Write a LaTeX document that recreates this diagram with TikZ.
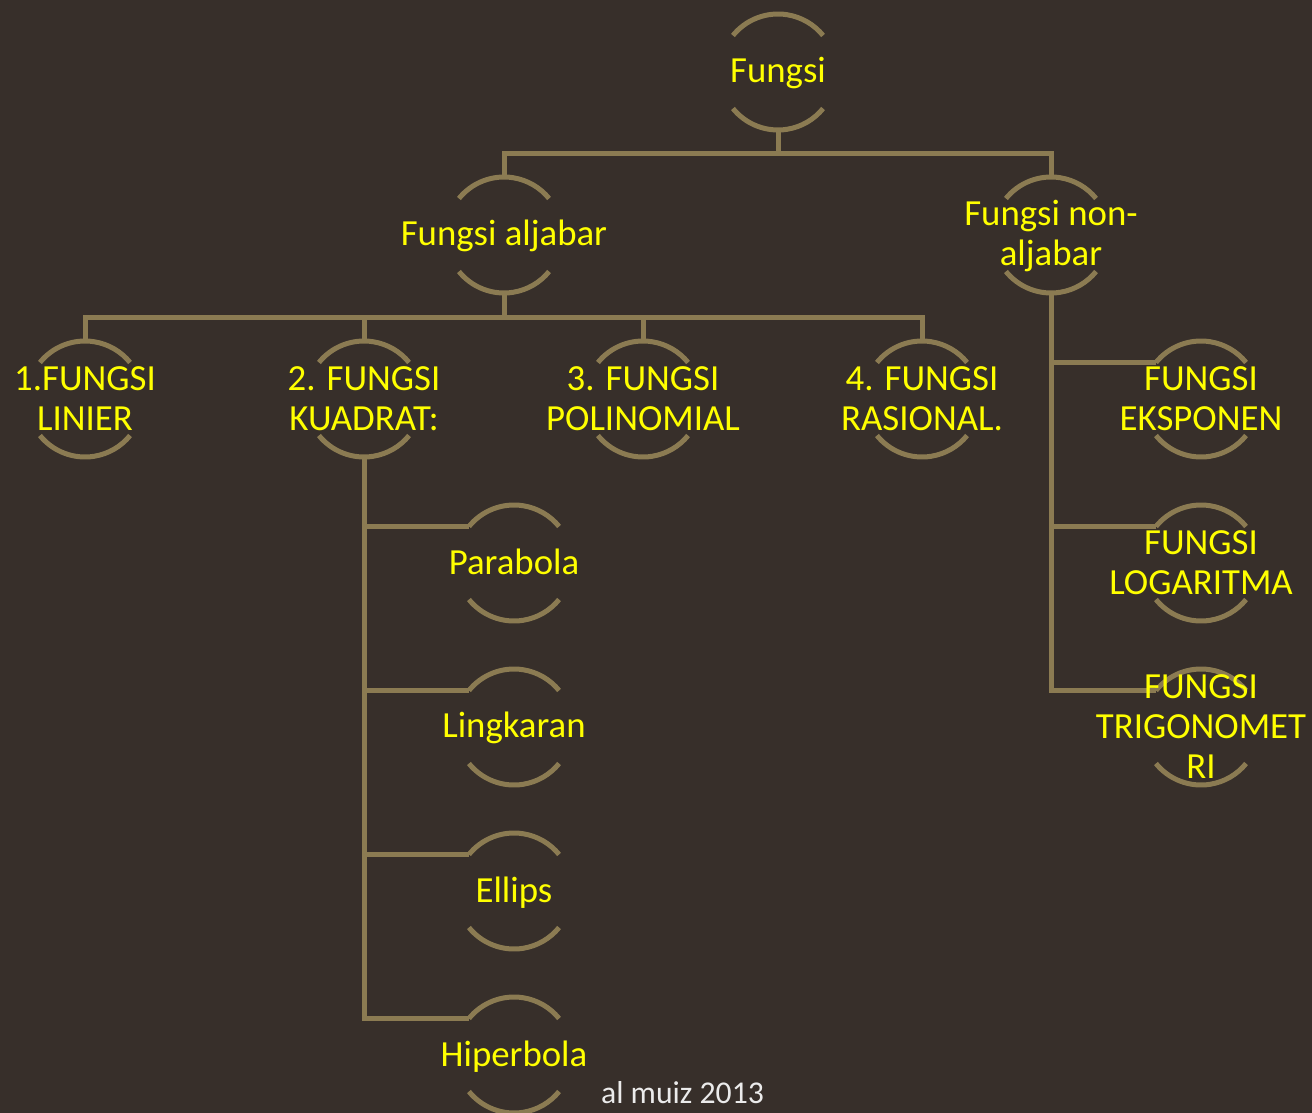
\documentclass[tikz,border=0pt]{standalone}
\usepackage{fontspec}
\setmainfont{Carlito}
\usetikzlibrary{backgrounds}
\definecolor{bgc}{RGB}{55,47,42}
\definecolor{lnc}{RGB}{139,123,82}
\definecolor{txc}{RGB}{255,255,0}
\definecolor{ftc}{RGB}{235,235,235}
\newcommand\tp{\rule{0pt}{28pt}}
\newcommand\bt{\rule[-6pt]{0pt}{6pt}}
\newcommand\ringarcs[1]{%
  \draw[arcline] ([shift={(141:58pt)}]#1.center) arc[start angle=141,end angle=39,radius=58pt];
  \draw[arcline] ([shift={(219:58pt)}]#1.center) arc[start angle=219,end angle=321,radius=58pt];}
\begin{document}
\begin{tikzpicture}[x=1pt,y=1pt,
  lbl/.style={inner sep=0pt, align=center, text=txc, font=\fontsize{36.8}{40}\selectfont},
  foot/.style={inner sep=0pt, anchor=base, text=ftc, font=\fontsize{31.7}{38}\selectfont},
  arcline/.style={draw=lnc, line width=5pt},
  conn/.style={draw=lnc, line width=5pt}]
\useasboundingbox (0,0) rectangle (1312,-1113);
% nodes
\node[lbl] (f)   at (778,-72)   {\tp Fungsi\bt};
\node[lbl] (alj) at (504,-235)  {\tp Fungsi aljabar\bt};
\node[lbl] (non) at (1051,-235) {\tp Fungsi non-\\aljabar\bt};
\node[lbl] (lin) at (85,-399)   {\tp 1.FUNGSI\\LINIER\bt};
\node[lbl] (kua) at (364,-399)  {\tp 2. FUNGSI\\KUADRAT:\bt};
\node[lbl] (pol) at (643,-399)  {\tp 3. FUNGSI\\POLINOMIAL\bt};
\node[lbl] (ras) at (922,-399)  {\tp 4. FUNGSI\\RASIONAL.\bt};
\node[lbl] (eks) at (1201,-399) {\tp FUNGSI\\EKSPONEN\bt};
\node[lbl] (lgr) at (1201,-563) {\tp FUNGSI\\LOGARITMA\bt};
\node[lbl] (tri) at (1201,-727) {\tp FUNGSI\\TRIGONOMET\\RI\bt};
\node[lbl] (par) at (514,-563)  {\tp Parabola\bt};
\node[lbl] (lng) at (514,-727)  {\tp Lingkaran\bt};
\node[lbl] (ell) at (514,-891)  {\tp Ellips\bt};
\node[lbl] (hip) at (514,-1055) {\tp Hiperbola\bt};
\node[foot] (ft) at (682.5,-1103) {al muiz 2013};
\begin{scope}[on background layer]
  \fill[bgc] (0,0) rectangle (1312,-1113);
  \foreach \n in {f,alj,non,lin,kua,pol,ras,eks,lgr,tri,par,lng,ell,hip}{\ringarcs{\n}}
  % top level
  \foreach \c in {alj,non}
    \draw[conn] ([yshift=-58pt]f.center) -- ++(0,-23.5) -| ([yshift=58pt]\c.center);
  % algebraic
  \foreach \c in {lin,kua,pol,ras}
    \draw[conn] ([yshift=-58pt]alj.center) -- ++(0,-24) -| ([yshift=58pt]\c.center);
  % quadratic children
  \foreach \c in {par,lng,ell,hip}
    \draw[conn] ([yshift=-58pt]kua.center) |- ([shift={(141:58pt)}]\c.center);
  % non-algebraic children
  \foreach \c in {eks,lgr,tri}
    \draw[conn] ([yshift=-58pt]non.center) |- ([shift={(141:58pt)}]\c.center);
\end{scope}
\end{tikzpicture}
\end{document}
